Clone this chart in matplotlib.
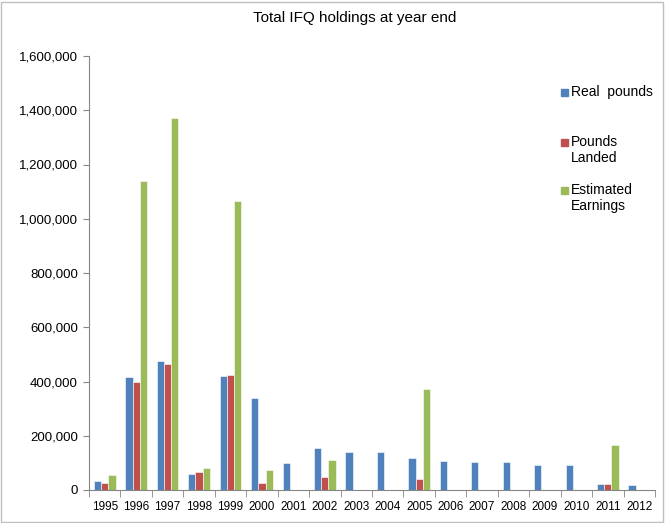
import numpy as np
import matplotlib.pyplot as plt
from matplotlib.patches import Rectangle
from matplotlib.ticker import FuncFormatter, MultipleLocator

years = ["1995", "1996", "1997", "1998", "1999", "2000", "2001", "2002", "2003",
         "2004", "2005", "2006", "2007", "2008", "2009", "2010", "2011", "2012"]

real_pounds = [34000, 417000, 476000, 60000, 420000, 339000, 100000, 156000, 140000,
               139000, 119000, 107000, 102000, 102000, 92000, 91000, 23000, 18000]
pounds_landed = [27000, 398000, 466000, 66000, 425000, 27000, 0, 48000, 0,
                 0, 41000, 0, 0, 0, 0, 0, 23000, 0]
est_earnings = [56000, 1139000, 1370000, 81000, 1064000, 75000, 0, 109000, 0,
                0, 372000, 0, 0, 0, 0, 0, 166000, 0]

series = [("Real  pounds", real_pounds, "#4F81BD"),
          ("Pounds\nLanded", pounds_landed, "#C0504D"),
          ("Estimated\nEarnings", est_earnings, "#9BBB59")]

plt.rcParams["font.family"] = ["Liberation Sans", "DejaVu Sans"]

fig = plt.figure(figsize=(6.65, 5.23), dpi=100)
ax = fig.add_axes([89 / 665, 33 / 523, 566 / 665, 434 / 523])

x = np.arange(len(years))
w = 0.23
for i, (label, vals, color) in enumerate(series):
    ax.bar(x + (i - 1) * w, vals, width=w, color=color,
           edgecolor="white", linewidth=0.4)

ax.set_xlim(-0.5, len(years) - 0.5)
ax.set_ylim(0, 1600000)
ax.yaxis.set_major_locator(MultipleLocator(200000))
ax.yaxis.set_major_formatter(FuncFormatter(lambda v, p: f"{int(v):,}"))

ax.set_xticks(x)
ax.set_xticklabels(years, fontsize=8.5)
ax.set_xticks(np.arange(-0.5, len(years)), minor=True)
ax.tick_params(axis="x", which="major", length=0, pad=8)
ax.tick_params(axis="x", which="minor", length=5, color="#868686")
ax.tick_params(axis="y", length=4, color="#868686", labelsize=9.5, pad=4)

for s in ["top", "right"]:
    ax.spines[s].set_visible(False)
for s in ["left", "bottom"]:
    ax.spines[s].set_color("#868686")

fig.text(355 / 665, 1 - 18 / 523, "Total IFQ holdings at year end",
         ha="center", va="center", fontsize=11)

# legend
leg_y = [92, 142, 190]
for (label, vals, color), yy in zip(series, leg_y):
    fig.patches.append(Rectangle((561 / 665, 1 - (yy + 4) / 523), 7 / 665, 7 / 523,
                                 transform=fig.transFigure, color=color))
    fig.text(571 / 665, 1 - (yy - 7) / 523, label, ha="left", va="top",
             fontsize=10, linespacing=1.15)

fig.patches.append(Rectangle((0.002, 0.002), 0.995, 0.995, transform=fig.transFigure,
                             fill=False, edgecolor="#BFBFBF", linewidth=1))

fig.savefig("out.png", dpi=100)
